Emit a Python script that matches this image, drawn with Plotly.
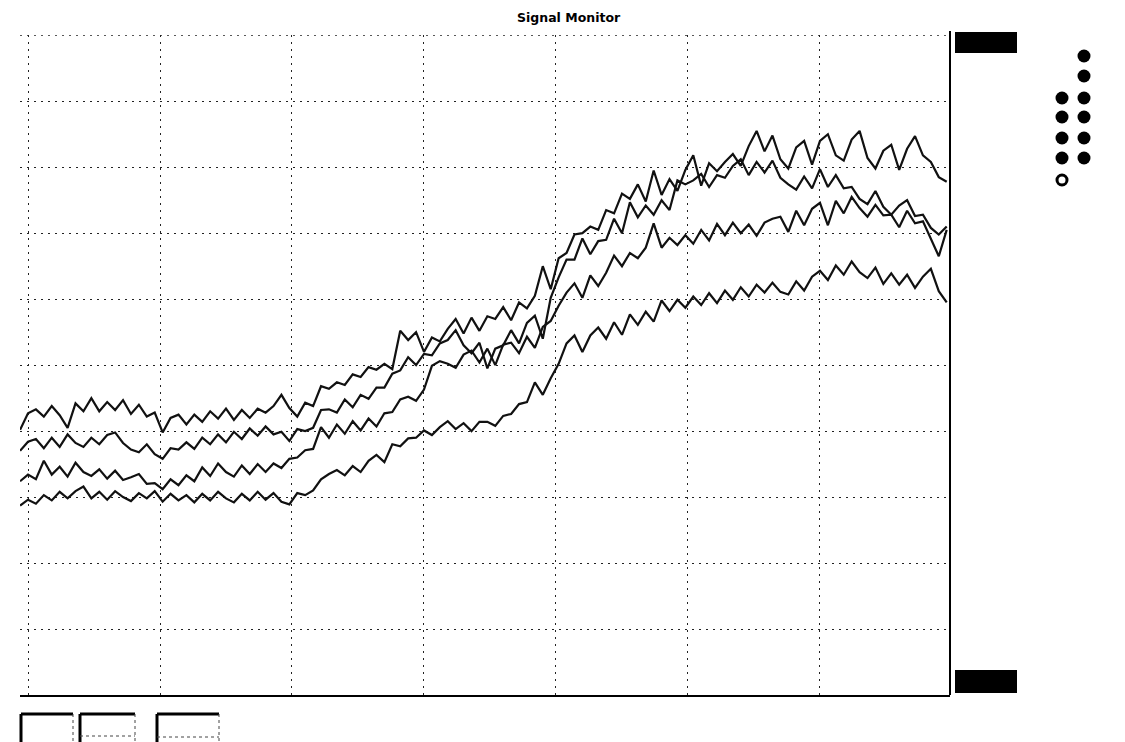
import plotly.graph_objects as go

# sample times (s)
time = [-6, 0, 6, 12, 18, 24, 30, 36, 42, 48,
        54, 60, 66, 72, 78, 84, 90, 96, 102, 108,
        114, 120, 126, 132, 138, 144, 150, 156, 162, 168,
        174, 180, 186, 192, 198, 204, 210, 216, 222, 228,
        234, 240, 246, 252, 258, 264, 270, 276, 282, 288,
        294, 300, 306, 312, 318, 324, 330, 336, 342, 348,
        354, 360, 366, 372, 378, 384, 390, 396, 402, 408,
        414, 420, 426, 432, 438, 444, 450, 456, 462, 468,
        474, 480, 486, 492, 498, 504, 510, 516, 522, 528,
        534, 540, 546, 552, 558, 564, 570, 576, 582, 588,
        594, 600, 606, 612, 618, 624, 630, 636, 642, 648,
        654, 660, 666, 672, 678, 684, 690, 696]

signal_a = [4.02, 4.27, 4.33, 4.22, 4.38, 4.24, 4.05, 4.42, 4.30, 4.50,
            4.30, 4.44, 4.32, 4.47, 4.26, 4.40, 4.22, 4.28, 3.98, 4.20,
            4.25, 4.10, 4.25, 4.14, 4.30, 4.19, 4.34, 4.17, 4.32, 4.20,
            4.34, 4.28, 4.38, 4.55, 4.35, 4.22, 4.43, 4.38, 4.68, 4.64,
            4.74, 4.70, 4.86, 4.82, 4.97, 4.93, 5.02, 4.94, 5.52, 5.38,
            5.50, 5.20, 5.42, 5.36, 5.55, 5.70, 5.48, 5.72, 5.52, 5.74,
            5.70, 5.88, 5.68, 5.95, 5.86, 6.05, 6.50, 6.15, 6.62, 6.70,
            6.98, 7.00, 7.10, 7.05, 7.35, 7.30, 7.60, 7.52, 7.74, 7.48,
            7.95, 7.58, 7.82, 7.64, 7.96, 8.18, 7.72, 8.06, 7.94, 8.08,
            8.20, 8.02, 8.32, 8.55, 8.24, 8.48, 8.12, 7.98, 8.30, 8.40,
            8.04, 8.40, 8.50, 8.18, 8.10, 8.42, 8.55, 8.14, 7.98, 8.25,
            8.34, 7.96, 8.28, 8.47, 8.18, 8.08, 7.85, 7.78]

signal_b = [3.70, 3.84, 3.88, 3.74, 3.90, 3.76, 3.95, 3.82, 3.76, 3.90,
            3.80, 3.94, 3.98, 3.82, 3.72, 3.68, 3.80, 3.65, 3.58, 3.74,
            3.72, 3.83, 3.73, 3.90, 3.80, 3.95, 3.83, 3.99, 3.88, 4.04,
            3.93, 4.07, 3.95, 3.99, 3.85, 4.03, 4.00, 4.05, 4.32, 4.33,
            4.28, 4.48, 4.36, 4.55, 4.49, 4.66, 4.66, 4.87, 4.92, 5.12,
            5.00, 5.17, 5.15, 5.33, 5.38, 5.53, 5.30, 5.18, 5.34, 4.95,
            5.25, 5.30, 5.53, 5.33, 5.64, 5.75, 5.40, 6.02, 6.33, 6.60,
            6.60, 6.92, 6.68, 6.88, 6.90, 7.22, 7.00, 7.47, 7.24, 7.42,
            7.28, 7.50, 7.35, 7.80, 7.74, 7.80, 7.90, 7.70, 7.88, 7.84,
            8.02, 8.12, 7.88, 8.08, 7.92, 8.10, 7.84, 7.74, 7.66, 7.86,
            7.68, 7.97, 7.70, 7.88, 7.68, 7.70, 7.52, 7.44, 7.64, 7.40,
            7.28, 7.42, 7.50, 7.26, 7.28, 7.08, 6.98, 7.10]

signal_c = [3.24, 3.34, 3.27, 3.55, 3.34, 3.46, 3.31, 3.52, 3.38, 3.32,
            3.42, 3.28, 3.40, 3.26, 3.30, 3.35, 3.20, 3.21, 3.12, 3.27,
            3.18, 3.33, 3.24, 3.45, 3.32, 3.51, 3.38, 3.31, 3.48, 3.35,
            3.50, 3.38, 3.51, 3.44, 3.58, 3.60, 3.71, 3.73, 4.06, 3.90,
            4.10, 3.96, 4.15, 4.01, 4.19, 4.07, 4.27, 4.29, 4.48, 4.52,
            4.46, 4.63, 4.99, 5.06, 5.02, 4.96, 5.16, 5.22, 5.04, 5.25,
            5.00, 5.31, 5.34, 5.18, 5.43, 5.26, 5.58, 5.67, 5.90, 6.10,
            6.24, 6.02, 6.36, 6.20, 6.40, 6.66, 6.50, 6.70, 6.62, 6.78,
            7.15, 6.78, 6.93, 6.82, 6.97, 6.84, 7.05, 6.89, 7.14, 6.97,
            7.16, 7.00, 7.13, 6.96, 7.16, 7.22, 7.25, 7.02, 7.34, 7.12,
            7.37, 7.46, 7.12, 7.49, 7.30, 7.55, 7.38, 7.25, 7.43, 7.27,
            7.28, 7.09, 7.34, 7.15, 7.18, 6.92, 6.65, 7.05]

signal_d = [2.87, 2.96, 2.90, 3.03, 2.95, 3.08, 2.98, 3.09, 3.16, 2.98,
            3.08, 2.96, 3.09, 3.00, 2.94, 3.06, 2.98, 3.09, 2.93, 3.05,
            2.95, 3.03, 2.92, 3.05, 2.95, 3.08, 2.98, 2.92, 3.05, 2.95,
            3.08, 2.96, 3.06, 2.93, 2.89, 3.06, 3.03, 3.10, 3.27, 3.35,
            3.41, 3.33, 3.47, 3.38, 3.55, 3.64, 3.53, 3.80, 3.77, 3.89,
            3.90, 4.01, 3.94, 4.06, 4.15, 4.03, 4.12, 4.00, 4.14, 4.14,
            4.08, 4.23, 4.26, 4.41, 4.44, 4.74, 4.55, 4.80, 5.02, 5.33,
            5.45, 5.20, 5.45, 5.57, 5.40, 5.65, 5.46, 5.77, 5.61, 5.81,
            5.66, 5.98, 5.82, 5.99, 5.87, 6.04, 5.91, 6.09, 5.94, 6.13,
            5.99, 6.18, 6.04, 6.22, 6.10, 6.25, 6.11, 6.07, 6.27, 6.13,
            6.34, 6.43, 6.29, 6.51, 6.37, 6.57, 6.41, 6.32, 6.48, 6.23,
            6.39, 6.22, 6.37, 6.17, 6.34, 6.46, 6.12, 5.95]

series = [signal_a, signal_b, signal_c, signal_d]
title_text = "Signal Monitor"

fig = go.Figure()
for s in series:
    fig.add_trace(go.Scatter(x=time, y=s, mode="lines",
                             line=dict(color="#111111", width=2.2),
                             hoverinfo="skip", showlegend=False))

W, H = 1125, 742
OFF = 8  # page body margin
L, R, T, B = 12, 183, 27, 55
pw, ph = W - L - R, H - T - B


def px(x):
    return (x - OFF - L) / pw


def py(y):
    return (H - B - (y - OFF)) / ph


shapes = []
# top dotted border
shapes.append(dict(type="line", xref="paper", yref="y", x0=0, x1=1, y0=10, y1=10,
                   line=dict(color="#222", width=1, dash="2px,5px")))
# right solid border
shapes.append(dict(type="line", xref="paper", yref="paper", x0=1, x1=1,
                   y0=0, y1=py(31), line=dict(color="black", width=2)))
# black indicator blocks
for (y0, y1) in [(32, 53), (670, 693)]:
    shapes.append(dict(type="rect", xref="paper", yref="paper",
                       x0=px(955), x1=px(1017), y0=py(y1), y1=py(y0),
                       fillcolor="black", line=dict(width=0)))
# status dots
r = 6.5
for cx, rows in [(1084, [56, 76, 98, 117, 138, 158]), (1062, [98, 117, 138, 158])]:
    for cy in rows:
        shapes.append(dict(type="circle", xref="paper", yref="paper",
                           x0=px(cx - r), x1=px(cx + r), y0=py(cy + r), y1=py(cy - r),
                           fillcolor="black", line=dict(width=0)))
shapes.append(dict(type="circle", xref="paper", yref="paper",
                   x0=px(1062 - 5), x1=px(1062 + 5), y0=py(180 + 5), y1=py(180 - 5),
                   fillcolor="white", line=dict(color="black", width=3)))
# bottom-left bracket buttons
for (x0, x1, bot) in [(21, 73, None), (80, 135, 736), (157, 219, 737)]:
    shapes.append(dict(type="line", xref="paper", yref="paper", x0=px(x0), x1=px(x1),
                       y0=py(714), y1=py(714), line=dict(color="black", width=3)))
    shapes.append(dict(type="line", xref="paper", yref="paper", x0=px(x0), x1=px(x0),
                       y0=py(714), y1=py(742), line=dict(color="black", width=3)))
    shapes.append(dict(type="line", xref="paper", yref="paper", x0=px(x1), x1=px(x1),
                       y0=py(714), y1=py(742), line=dict(color="#444", width=1, dash="dot")))
    if bot:
        shapes.append(dict(type="line", xref="paper", yref="paper", x0=px(x0), x1=px(x1),
                           y0=py(bot), y1=py(bot), line=dict(color="#444", width=1, dash="dot")))

fig.update_layout(
    width=W, height=H,
    margin=dict(l=L, r=R, t=T, b=B, pad=0),
    paper_bgcolor="white", plot_bgcolor="white",
    shapes=shapes,
    annotations=[dict(text="<b>" + title_text + "</b>", xref="paper", yref="paper",
                      x=px(569), y=py(18), xanchor="center", yanchor="middle",
                      showarrow=False,
                      font=dict(family="DejaVu Sans", size=12.5, color="black"))],
    xaxis=dict(range=[-6.06, 698.5], tick0=0, dtick=100, showgrid=True,
               gridcolor="#222", gridwidth=1, griddash="2px,5px",
               zeroline=False, showticklabels=False, ticks="",
               showline=True, linecolor="black", linewidth=2),
    yaxis=dict(range=[0, 10.004], tick0=0, dtick=1, showgrid=True,
               gridcolor="#222", gridwidth=1, griddash="2px,5px",
               zeroline=False, showticklabels=False, ticks="", showline=False),
)

fig.write_html("out.html")
